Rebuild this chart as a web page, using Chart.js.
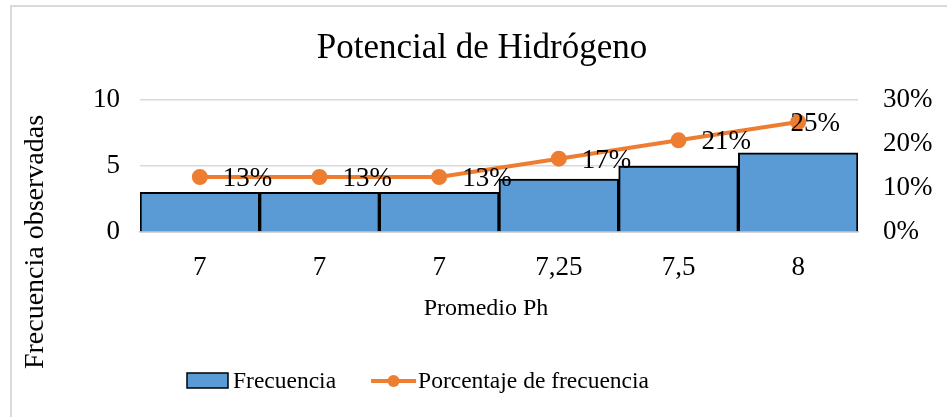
<!DOCTYPE html>
<html>
<head>
<meta charset="utf-8">
<script src="https://cdn.jsdelivr.net/npm/chart.js@4.4.0/dist/chart.umd.min.js"></script>
<style>
  html, body { margin: 0; padding: 0; background: #fff; }
  #wrap { width: 947px; height: 417px; position: relative; }
</style>
</head>
<body>
<div id="wrap"><canvas id="myChart"></canvas></div>
<script>
// datos
const categorias = ["7", "7", "7", "7,25", "7,5", "8"];
const frecuencia = [3, 3, 3, 4, 5, 6];
const porcentaje = [12.5, 12.5, 12.5, 16.67, 20.83, 25];
const etiquetasPct = ["13%", "13%", "13%", "17%", "21%", "25%"];

const fuente = "'Liberation Serif', 'Times New Roman', serif";
const azul = "#5B9BD5";
const naranja = "#ED7D31";

// etiquetas de porcentaje a la derecha de cada punto
const etiquetas = {
  id: "etiquetas",
  afterDatasetsDraw(chart) {
    const meta = chart.getDatasetMeta(0);
    const area = chart.chartArea;
    const ctx = chart.ctx;
    ctx.save();
    ctx.font = "27px " + fuente;
    ctx.fillStyle = "#000";
    ctx.textBaseline = "middle";
    ctx.textAlign = "left";
    meta.data.forEach((p, i) => {
      const t = etiquetasPct[i];
      const w = ctx.measureText(t).width;
      let x = p.x + 23;
      if (x + w > area.right) x = area.right - 18 - w;
      ctx.fillText(t, x, p.y + 2);
    });
    ctx.restore();
  }
};

// marco, titulos y leyenda
const extras = {
  id: "extras",
  afterDraw(chart) {
    const ctx = chart.ctx;
    const area = chart.chartArea;
    ctx.save();
    ctx.strokeStyle = "#D9D9D9";
    ctx.lineWidth = 2;
    ctx.beginPath();
    ctx.moveTo(11, 417);
    ctx.lineTo(11, 6);
    ctx.lineTo(947, 6);
    ctx.stroke();

    ctx.fillStyle = "#000";
    ctx.textAlign = "center";

    // titulo
    ctx.textBaseline = "alphabetic";
    ctx.font = "35px " + fuente;
    ctx.fillText("Potencial de Hidrógeno", 482, 58);

    ctx.textBaseline = "middle";
    // titulo eje x
    ctx.font = "24px " + fuente;
    ctx.fillText("Promedio Ph", (area.left + area.right) / 2 - 13, 309);

    // titulo eje y
    ctx.font = "28px " + fuente;
    ctx.translate(36, 242);
    ctx.rotate(-Math.PI / 2);
    ctx.fillText("Frecuencia observadas", 0, 0);
    ctx.setTransform(1, 0, 0, 1, 0, 0);

    // leyenda
    const ds = chart.data.datasets;
    const ly = 381;
    let x = 187;
    ctx.font = "23.5px " + fuente;
    ctx.textAlign = "left";
    ctx.fillStyle = ds[1].backgroundColor;
    ctx.fillRect(x, ly - 8, 41, 15);
    ctx.strokeStyle = "#000";
    ctx.lineWidth = 1.5;
    ctx.strokeRect(x, ly - 8, 41, 15);
    x += 46;
    ctx.fillStyle = "#000";
    ctx.fillText(ds[1].label, x, ly + 1);
    x += ctx.measureText(ds[1].label).width + 35;
    ctx.strokeStyle = ds[0].borderColor;
    ctx.lineWidth = 4;
    ctx.beginPath();
    ctx.moveTo(x, ly);
    ctx.lineTo(x + 45, ly);
    ctx.stroke();
    ctx.fillStyle = ds[0].borderColor;
    ctx.beginPath();
    ctx.arc(x + 22.5, ly, 6, 0, Math.PI * 2);
    ctx.fill();
    x += 47;
    ctx.fillStyle = "#000";
    ctx.fillText(ds[0].label, x, ly + 1);
    ctx.restore();
  }
};

const ctx = document.getElementById("myChart");

new Chart(ctx, {
  type: "bar",
  data: {
    labels: categorias,
    datasets: [
      {
        type: "line",
        label: "Porcentaje de frecuencia",
        data: porcentaje,
        yAxisID: "y1",
        borderColor: naranja,
        backgroundColor: naranja,
        borderWidth: 4,
        pointRadius: 6,
        pointHoverRadius: 6,
        tension: 0,
        order: 0,
      },
      {
        label: "Frecuencia",
        data: frecuencia,
        yAxisID: "y",
        backgroundColor: azul,
        borderColor: "#000",
        borderWidth: 2,
        barPercentage: 1,
        categoryPercentage: 1,
        order: 1,
      },
    ],
  },
  options: {
    responsive: true,
    maintainAspectRatio: false,
    animation: false,
    layout: { padding: { left: 93, right: 14, top: 100, bottom: 128 } },
    plugins: {
      title: { display: false },
      legend: { display: false },
      tooltip: { enabled: false },
    },
    scales: {
      x: {
        grid: { display: false },
        border: { display: true, color: "#BFBFBF", width: 1.5 },
        ticks: { color: "#000", font: { family: fuente, size: 27 }, padding: 12 },
        afterFit(scale) { scale.height = 57; },
      },
      y: {
        position: "left",
        min: 0,
        max: 10,
        ticks: { stepSize: 5, autoSkip: false, color: "#000", font: { family: fuente, size: 27 }, padding: 20 },
        grid: { color: "#D9D9D9", drawTicks: false, lineWidth: 1.5 },
        border: { display: false },
        afterFit(scale) { scale.width = 47; },
      },
      y1: {
        position: "right",
        min: 0,
        max: 30,
        ticks: {
          stepSize: 10,
          autoSkip: false,
          color: "#000",
          font: { family: fuente, size: 27 },
          padding: 25,
          callback: (v) => v + "%",
        },
        grid: { display: false, drawTicks: false },
        border: { display: false },
        afterFit(scale) { scale.width = 75; },
      },
    },
  },
  plugins: [etiquetas, extras],
});
</script>
</body>
</html>
